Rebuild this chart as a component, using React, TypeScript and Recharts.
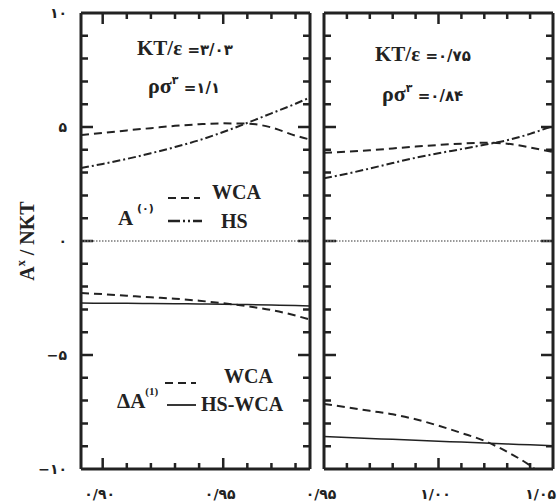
import { LineChart, Line, XAxis, YAxis, ReferenceLine } from 'recharts';

// left panel (KT/ε = 3.03), x values
const LEFT_X = [0.891, 0.9, 0.91, 0.92, 0.93, 0.94, 0.95, 0.96, 0.97, 0.98, 0.986];
const LEFT_A0_WCA = [4.65, 4.74, 4.85, 4.95, 5.05, 5.12, 5.16, 5.15, 4.98, 4.62, 4.45];
const LEFT_A0_HS = [3.2, 3.38, 3.6, 3.85, 4.12, 4.42, 4.78, 5.18, 5.6, 6.02, 6.3];
const LEFT_DA1_WCA = [-2.28, -2.33, -2.4, -2.47, -2.53, -2.62, -2.73, -2.86, -3.03, -3.27, -3.45];
const LEFT_DA1_HSWCA = [-2.72, -2.73, -2.73, -2.74, -2.75, -2.76, -2.77, -2.79, -2.81, -2.83, -2.85];

// right panel (KT/ε = 0.75)
const RIGHT_X = [0.95, 0.96, 0.97, 0.98, 0.99, 1.0, 1.01, 1.02, 1.03, 1.04, 1.05];
const RIGHT_A0_WCA = [3.87, 3.92, 3.98, 4.06, 4.14, 4.21, 4.27, 4.31, 4.27, 4.1, 3.9];
const RIGHT_A0_HS = [2.75, 2.95, 3.18, 3.42, 3.65, 3.85, 4.03, 4.22, 4.42, 4.7, 5.05];
const RIGHT_DA1_HSWCA = [-8.58, -8.62, -8.66, -8.7, -8.74, -8.78, -8.82, -8.86, -8.9, -8.94, -8.98];
const RIGHT_DA1_WCA_X = [0.95, 0.96, 0.97, 0.98, 0.99, 1.0, 1.01, 1.02, 1.03, 1.04, 1.042];
const RIGHT_DA1_WCA = [-7.15, -7.29, -7.45, -7.6, -7.82, -8.1, -8.42, -8.76, -9.25, -9.85, -10];

// axes
const LEFT_DOMAIN = [0.891, 0.986];
const RIGHT_DOMAIN = [0.95, 1.05];
const LEFT_X_TICKS = [0.9, 0.91, 0.92, 0.93, 0.94, 0.95, 0.96, 0.97, 0.98];
const LEFT_X_MAJOR = [0.9, 0.95];
const LEFT_X_LABELS = ['۰/۹۰', '۰/۹۵'];
const RIGHT_X_TICKS = [0.96, 0.97, 0.98, 0.99, 1.0, 1.01, 1.02, 1.03, 1.04];
const RIGHT_X_MAJOR = [0.95, 1.0, 1.05];
const RIGHT_X_LABELS = ['۰/۹۵', '۱/۰۰', '۱/۰۵'];
const Y_TICKS = [-9, -8, -7, -6, -5, -4, -3, -2, -1, 0, 1, 2, 3, 4, 5, 6, 7, 8, 9];
const Y_MAJOR = [-10, -5, 0, 5, 10];
const Y_LABELS = ['−۱۰', '−۵', '۰', '۵', '۱۰'];

const INK = '#222';
const FONT = "'Liberation Serif', 'DejaVu Sans', serif";
const NUM_FONT = "'DejaVu Sans', sans-serif";
const WCA_DASH = '8 5';
const HS_DASH = '8 3 2 3';

// plot box size in px (both panels share it)
const PLOT_W = 229;
const PLOT_H = 456;
// reference line dashed so only its two ends show = inward tick marks on both sides
const tickDash = (len: number, span: number) => `${len} ${span - 2 * len} ${len}`;

const pts = (xs: number[], ys: number[]) => xs.map((x, i) => ({ x, y: ys[i] }));

const xLabel = (majors: number[], labels: string[], maxX: number) => (props: any) => {
  const i = majors.indexOf(props.payload.value);
  const atEnd = props.payload.value === maxX;
  return (
    <text x={atEnd ? props.x + 3 : props.x - 3} y={props.y + 30}
      textAnchor={atEnd ? 'end' : 'middle'} fontSize={14} fontWeight="bold"
      fontFamily={NUM_FONT} fill={INK}>
      {labels[i]}
    </text>
  );
};

const yLabel = (props: any) => {
  const i = Y_MAJOR.indexOf(props.payload.value);
  return (
    <text x={props.x - 14} y={props.y + 5} textAnchor="end" fontSize={14} fontWeight="bold"
      fontFamily={NUM_FONT} fill={INK}>
      {Y_LABELS[i]}
    </text>
  );
};

const frame = { stroke: INK, strokeWidth: 3 };

function Panel(props: {
  left: number; width: number; margin: any; domain: number[]; xTicks: number[];
  xMajor: number[]; xLabels: string[]; showY: boolean;
  a0wca: any[]; a0hs: any[]; da1wca: any[]; da1hswca: any[];
}) {
  const { domain } = props;
  const common = {
    type: 'number' as const, interval: 0 as const, allowDataOverflow: true,
    tickSize: 0, tickMargin: 0, tickLine: false, axisLine: frame,
  };
  return (
    <div style={{ position: 'absolute', left: props.left, top: 0 }}>
      <LineChart width={props.width} height={504} margin={props.margin}>
        <XAxis {...common} dataKey="x" domain={domain} ticks={props.xMajor} height={1}
          tick={xLabel(props.xMajor, props.xLabels, domain[1])} />
        <XAxis {...common} xAxisId="top" orientation="top" dataKey="x" domain={domain}
          ticks={props.xMajor} height={1} tick={false} />
        <YAxis {...common} domain={[-10, 10]} ticks={Y_MAJOR} width={1}
          tick={props.showY ? yLabel : false} />
        <YAxis {...common} yAxisId="right" orientation="right" domain={[-10, 10]}
          ticks={Y_MAJOR} width={1} tick={false} />

        {props.xTicks.map((v) => (
          <ReferenceLine key={`tx${v}`} x={v} stroke={INK} strokeWidth={2.5}
            strokeDasharray={tickDash(props.xMajor.includes(v) ? 11 : 6, PLOT_H)} />
        ))}
        {Y_TICKS.map((v) => (
          <ReferenceLine key={`ty${v}`} y={v} stroke={INK} strokeWidth={2.5}
            strokeDasharray={tickDash(Y_MAJOR.includes(v) ? 12 : 7, PLOT_W)} />
        ))}
        <ReferenceLine y={0} stroke="#777" strokeWidth={1.5} strokeDasharray="1.5 1.5" />

        <Line data={props.a0wca} dataKey="y" type="monotone" stroke={INK} strokeWidth={2}
          strokeDasharray={WCA_DASH} dot={false} isAnimationActive={false} />
        <Line data={props.a0hs} dataKey="y" type="monotone" stroke={INK} strokeWidth={2}
          strokeDasharray={HS_DASH} dot={false} isAnimationActive={false} />
        <Line data={props.da1wca} dataKey="y" type="monotone" stroke={INK} strokeWidth={2}
          strokeDasharray={WCA_DASH} dot={false} isAnimationActive={false} />
        <Line data={props.da1hswca} dataKey="y" type="monotone" stroke={INK} strokeWidth={1.5}
          dot={false} isAnimationActive={false} />
      </LineChart>
    </div>
  );
}

function Overlay() {
  const t = { fontFamily: FONT, fontWeight: 'bold' as const, fill: INK };
  return (
    <svg width={560} height={504}
      style={{ position: 'absolute', left: 0, top: 0, pointerEvents: 'none' }}>
      <text transform="translate(34,241) rotate(-90)" textAnchor="middle" fontSize={20} {...t}>
        A<tspan dy={-9} fontSize={12}>x</tspan><tspan dy={9}> / NKT</tspan>
      </text>
      <text x={137} y={55} fontSize={21} {...t}>
        KT/ε<tspan fontSize={15} fontFamily={NUM_FONT}> =۳/۰۳</tspan>
      </text>
      <text x={148} y={93} fontSize={22} {...t}>
        ρσ<tspan dy={-9} fontSize={11} fontFamily={NUM_FONT}>۳</tspan>
        <tspan dy={9} fontSize={15} fontFamily={NUM_FONT}> =۱/۱</tspan>
      </text>
      <text x={375} y={61} fontSize={21} {...t}>
        KT/ε<tspan fontSize={15} fontFamily={NUM_FONT}> =۰/۷۵</tspan>
      </text>
      <text x={382} y={101} fontSize={22} {...t}>
        ρσ<tspan dy={-9} fontSize={11} fontFamily={NUM_FONT}>۳</tspan>
        <tspan dy={9} fontSize={15} fontFamily={NUM_FONT}> =۰/۸۴</tspan>
      </text>
      <text x={118} y={225} fontSize={21} {...t}>
        A<tspan dy={-13} fontSize={11} fontFamily={NUM_FONT}> (۰)</tspan>
      </text>
      <line x1={168} x2={200} y1={198} y2={198} stroke={INK} strokeWidth={2} strokeDasharray={WCA_DASH} />
      <text x={212} y={199} fontSize={20} {...t}>WCA</text>
      <line x1={168} x2={202} y1={221} y2={221} stroke={INK} strokeWidth={2.5} strokeDasharray="12 3 2 3 2 3" />
      <text x={221} y={228} fontSize={20} {...t}>HS</text>
      <text x={117} y={408} fontSize={21} {...t}>
        ΔA<tspan dy={-13} fontSize={11}>(1)</tspan>
      </text>
      <line x1={165} x2={196} y1={383} y2={383} stroke={INK} strokeWidth={2} strokeDasharray={WCA_DASH} />
      <text x={224} y={383} fontSize={20} {...t}>WCA</text>
      <line x1={167} x2={196} y1={405} y2={405} stroke={INK} strokeWidth={1.8} />
      <text x={201} y={411} fontSize={20} {...t}>HS-WCA</text>
    </svg>
  );
}

export default function App() {
  return (
    <div style={{ position: 'absolute', left: 0, top: 0, width: 560, height: 504, background: '#fff' }}>
      <Panel left={0} width={320} margin={{ top: 12, right: 9, bottom: 34, left: 80 }}
        domain={LEFT_DOMAIN} xTicks={LEFT_X_TICKS} xMajor={LEFT_X_MAJOR} xLabels={LEFT_X_LABELS}
        showY
        a0wca={pts(LEFT_X, LEFT_A0_WCA)} a0hs={pts(LEFT_X, LEFT_A0_HS)}
        da1wca={pts(LEFT_X, LEFT_DA1_WCA)} da1hswca={pts(LEFT_X, LEFT_DA1_HSWCA)} />
      <Panel left={300} width={260} margin={{ top: 12, right: 6, bottom: 34, left: 23 }}
        domain={RIGHT_DOMAIN} xTicks={RIGHT_X_TICKS} xMajor={RIGHT_X_MAJOR} xLabels={RIGHT_X_LABELS}
        showY={false}
        a0wca={pts(RIGHT_X, RIGHT_A0_WCA)} a0hs={pts(RIGHT_X, RIGHT_A0_HS)}
        da1wca={pts(RIGHT_DA1_WCA_X, RIGHT_DA1_WCA)} da1hswca={pts(RIGHT_X, RIGHT_DA1_HSWCA)} />
      <Overlay />
    </div>
  );
}
